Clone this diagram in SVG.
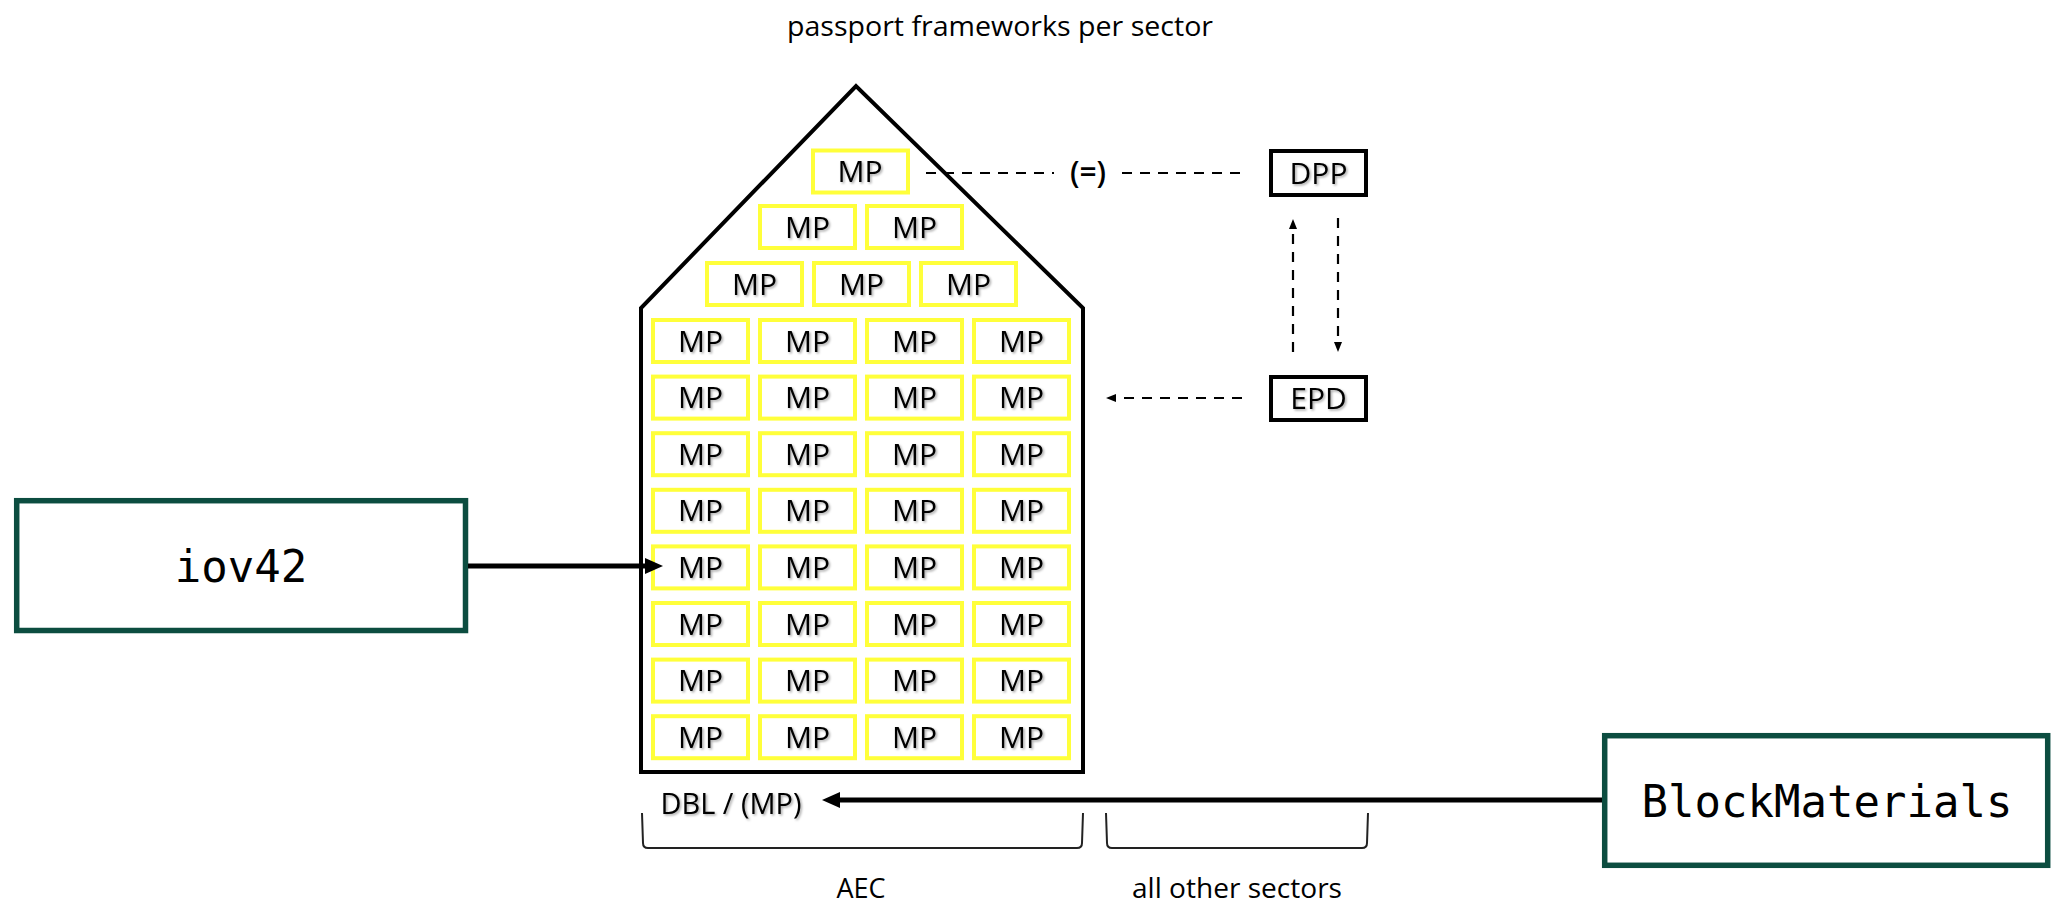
<svg xmlns="http://www.w3.org/2000/svg" width="2053" height="903" viewBox="0 0 2053 903">
<defs>
<style>
.mp{fill:#fff;stroke:#ffff3a;stroke-width:4}
.mpt{font-family:"Open Sans","Liberation Sans",sans-serif;font-size:30px;fill:#000;text-anchor:middle;filter:url(#sh)}
.lbl{font-family:"Open Sans","Liberation Sans",sans-serif;fill:#000;text-anchor:middle}
.box{fill:#fff;stroke:#000;stroke-width:4}
.gbox{fill:#fff;stroke:#0c4d40;stroke-width:5.5}
.mono{font-family:"DejaVu Sans Mono","Liberation Mono",monospace;font-size:44px;fill:#000;text-anchor:middle}
.dash{stroke:#000;stroke-width:2.2;stroke-dasharray:10 8;fill:none}
.thick{stroke:#000;stroke-width:5;fill:none}
.brace{stroke:#222;stroke-width:2;fill:none}
</style>
<filter id="sh" x="-20%" y="-20%" width="140%" height="160%">
<feDropShadow dx="1.5" dy="1.5" stdDeviation="0.8" flood-color="#000" flood-opacity="0.35"/>
</filter>
<marker id="ah" viewBox="0 0 18 16" refX="6" refY="8" markerWidth="18" markerHeight="16" markerUnits="userSpaceOnUse" orient="auto">
<path d="M0,0 L18,8 L0,16 z" fill="#000"/>
</marker>
<marker id="as" viewBox="0 0 10 8" refX="2" refY="4" markerWidth="10" markerHeight="8" markerUnits="userSpaceOnUse" orient="auto">
<path d="M0,0 L10,4 L0,8 z" fill="#000"/>
</marker>
</defs>
<rect width="2053" height="903" fill="#fff"/>

<text id="title" class="lbl" x="1000" y="36" font-size="28" textLength="426" lengthAdjust="spacingAndGlyphs">passport frameworks per sector</text>

<g id="house">
<path d="M641,772 L641,308 L856,86 L1083,308 L1083,772 Z" fill="none" stroke="#000" stroke-width="4" stroke-linejoin="miter"/>
</g>

<g id="mp-top"><rect class="mp" x="813" y="150.5" width="95" height="42"/><text class="mpt" x="860" y="182">MP</text></g>
<g id="mp-p2-1"><rect class="mp" x="760" y="206" width="95" height="42"/><text class="mpt" x="807.5" y="237.5">MP</text></g>
<g id="mp-p2-2"><rect class="mp" x="867" y="206" width="95" height="42"/><text class="mpt" x="914.5" y="237.5">MP</text></g>
<g id="mp-p3-1"><rect class="mp" x="707" y="263" width="95" height="42"/><text class="mpt" x="754.5" y="294.5">MP</text></g>
<g id="mp-p3-2"><rect class="mp" x="814" y="263" width="95" height="42"/><text class="mpt" x="861.5" y="294.5">MP</text></g>
<g id="mp-p3-3"><rect class="mp" x="921" y="263" width="95" height="42"/><text class="mpt" x="968.5" y="294.5">MP</text></g>

<g id="mp-1-1"><rect class="mp" x="653" y="320" width="95" height="42"/><text class="mpt" x="700.5" y="351.5">MP</text></g>
<g id="mp-1-2"><rect class="mp" x="760" y="320" width="95" height="42"/><text class="mpt" x="807.5" y="351.5">MP</text></g>
<g id="mp-1-3"><rect class="mp" x="867" y="320" width="95" height="42"/><text class="mpt" x="914.5" y="351.5">MP</text></g>
<g id="mp-1-4"><rect class="mp" x="974" y="320" width="95" height="42"/><text class="mpt" x="1021.5" y="351.5">MP</text></g>

<g id="mp-2-1"><rect class="mp" x="653" y="376.6" width="95" height="42"/><text class="mpt" x="700.5" y="408.1">MP</text></g>
<g id="mp-2-2"><rect class="mp" x="760" y="376.6" width="95" height="42"/><text class="mpt" x="807.5" y="408.1">MP</text></g>
<g id="mp-2-3"><rect class="mp" x="867" y="376.6" width="95" height="42"/><text class="mpt" x="914.5" y="408.1">MP</text></g>
<g id="mp-2-4"><rect class="mp" x="974" y="376.6" width="95" height="42"/><text class="mpt" x="1021.5" y="408.1">MP</text></g>

<g id="mp-3-1"><rect class="mp" x="653" y="433.2" width="95" height="42"/><text class="mpt" x="700.5" y="464.7">MP</text></g>
<g id="mp-3-2"><rect class="mp" x="760" y="433.2" width="95" height="42"/><text class="mpt" x="807.5" y="464.7">MP</text></g>
<g id="mp-3-3"><rect class="mp" x="867" y="433.2" width="95" height="42"/><text class="mpt" x="914.5" y="464.7">MP</text></g>
<g id="mp-3-4"><rect class="mp" x="974" y="433.2" width="95" height="42"/><text class="mpt" x="1021.5" y="464.7">MP</text></g>

<g id="mp-4-1"><rect class="mp" x="653" y="489.8" width="95" height="42"/><text class="mpt" x="700.5" y="521.3">MP</text></g>
<g id="mp-4-2"><rect class="mp" x="760" y="489.8" width="95" height="42"/><text class="mpt" x="807.5" y="521.3">MP</text></g>
<g id="mp-4-3"><rect class="mp" x="867" y="489.8" width="95" height="42"/><text class="mpt" x="914.5" y="521.3">MP</text></g>
<g id="mp-4-4"><rect class="mp" x="974" y="489.8" width="95" height="42"/><text class="mpt" x="1021.5" y="521.3">MP</text></g>

<g id="mp-5-1"><rect class="mp" x="653" y="546.4" width="95" height="42"/><text class="mpt" x="700.5" y="577.9">MP</text></g>
<g id="mp-5-2"><rect class="mp" x="760" y="546.4" width="95" height="42"/><text class="mpt" x="807.5" y="577.9">MP</text></g>
<g id="mp-5-3"><rect class="mp" x="867" y="546.4" width="95" height="42"/><text class="mpt" x="914.5" y="577.9">MP</text></g>
<g id="mp-5-4"><rect class="mp" x="974" y="546.4" width="95" height="42"/><text class="mpt" x="1021.5" y="577.9">MP</text></g>

<g id="mp-6-1"><rect class="mp" x="653" y="603" width="95" height="42"/><text class="mpt" x="700.5" y="634.5">MP</text></g>
<g id="mp-6-2"><rect class="mp" x="760" y="603" width="95" height="42"/><text class="mpt" x="807.5" y="634.5">MP</text></g>
<g id="mp-6-3"><rect class="mp" x="867" y="603" width="95" height="42"/><text class="mpt" x="914.5" y="634.5">MP</text></g>
<g id="mp-6-4"><rect class="mp" x="974" y="603" width="95" height="42"/><text class="mpt" x="1021.5" y="634.5">MP</text></g>

<g id="mp-7-1"><rect class="mp" x="653" y="659.6" width="95" height="42"/><text class="mpt" x="700.5" y="691.1">MP</text></g>
<g id="mp-7-2"><rect class="mp" x="760" y="659.6" width="95" height="42"/><text class="mpt" x="807.5" y="691.1">MP</text></g>
<g id="mp-7-3"><rect class="mp" x="867" y="659.6" width="95" height="42"/><text class="mpt" x="914.5" y="691.1">MP</text></g>
<g id="mp-7-4"><rect class="mp" x="974" y="659.6" width="95" height="42"/><text class="mpt" x="1021.5" y="691.1">MP</text></g>

<g id="mp-8-1"><rect class="mp" x="653" y="716.2" width="95" height="42"/><text class="mpt" x="700.5" y="747.7">MP</text></g>
<g id="mp-8-2"><rect class="mp" x="760" y="716.2" width="95" height="42"/><text class="mpt" x="807.5" y="747.7">MP</text></g>
<g id="mp-8-3"><rect class="mp" x="867" y="716.2" width="95" height="42"/><text class="mpt" x="914.5" y="747.7">MP</text></g>
<g id="mp-8-4"><rect class="mp" x="974" y="716.2" width="95" height="42"/><text class="mpt" x="1021.5" y="747.7">MP</text></g>

<g id="dpp"><rect class="box" x="1271" y="151" width="95" height="44"/><text class="lbl" x="1318.5" y="183.5" font-size="30" style="filter:url(#sh)">DPP</text></g>
<g id="epd"><rect class="box" x="1271" y="377" width="95" height="43"/><text class="lbl" x="1318.5" y="409" font-size="30" style="filter:url(#sh)">EPD</text></g>

<g id="iov42"><rect class="gbox" x="16.7" y="500.7" width="448.8" height="129.8"/><text class="mono" x="241" y="582">iov42</text></g>
<g id="blockmaterials"><rect class="gbox" x="1604.7" y="735.7" width="443" height="129.6"/><text class="mono" x="1827" y="817">BlockMaterials</text></g>

<g id="dbl-label"><text class="lbl" x="731" y="814" font-size="29" textLength="141" lengthAdjust="spacingAndGlyphs" style="filter:url(#sh)">DBL / (MP)</text></g>

<g id="sectors">
<path class="brace" d="M642,813 L643,843 Q643,848 648,848 L1077,848 Q1082,848 1082,843 L1083,813"/>
<path class="brace" d="M1106,813 L1107,843 Q1107,848 1112,848 L1362,848 Q1367,848 1367,843 L1368,813"/>
<text class="lbl" x="861" y="898" font-size="27">AEC</text>
<text class="lbl" x="1237" y="898" font-size="27" textLength="210" lengthAdjust="spacingAndGlyphs">all other sectors</text>
</g>

<g id="connectors">
<line class="dash" x1="926" y1="173" x2="1054" y2="173"/>
<text class="lbl" x="1088" y="183" font-size="30" font-weight="600">(=)</text>
<line class="dash" x1="1122" y1="173" x2="1242" y2="173"/>
<line class="dash" x1="1293" y1="352" x2="1293" y2="227" marker-end="url(#as)"/>
<line class="dash" x1="1338" y1="218" x2="1338" y2="344" marker-end="url(#as)"/>
<line class="dash" x1="1242" y1="398" x2="1114" y2="398" marker-end="url(#as)"/>
<line class="thick" x1="468" y1="566" x2="651" y2="566" marker-end="url(#ah)"/>
<line class="thick" x1="1602" y1="800" x2="834" y2="800" marker-end="url(#ah)"/>
</g>
</svg>
